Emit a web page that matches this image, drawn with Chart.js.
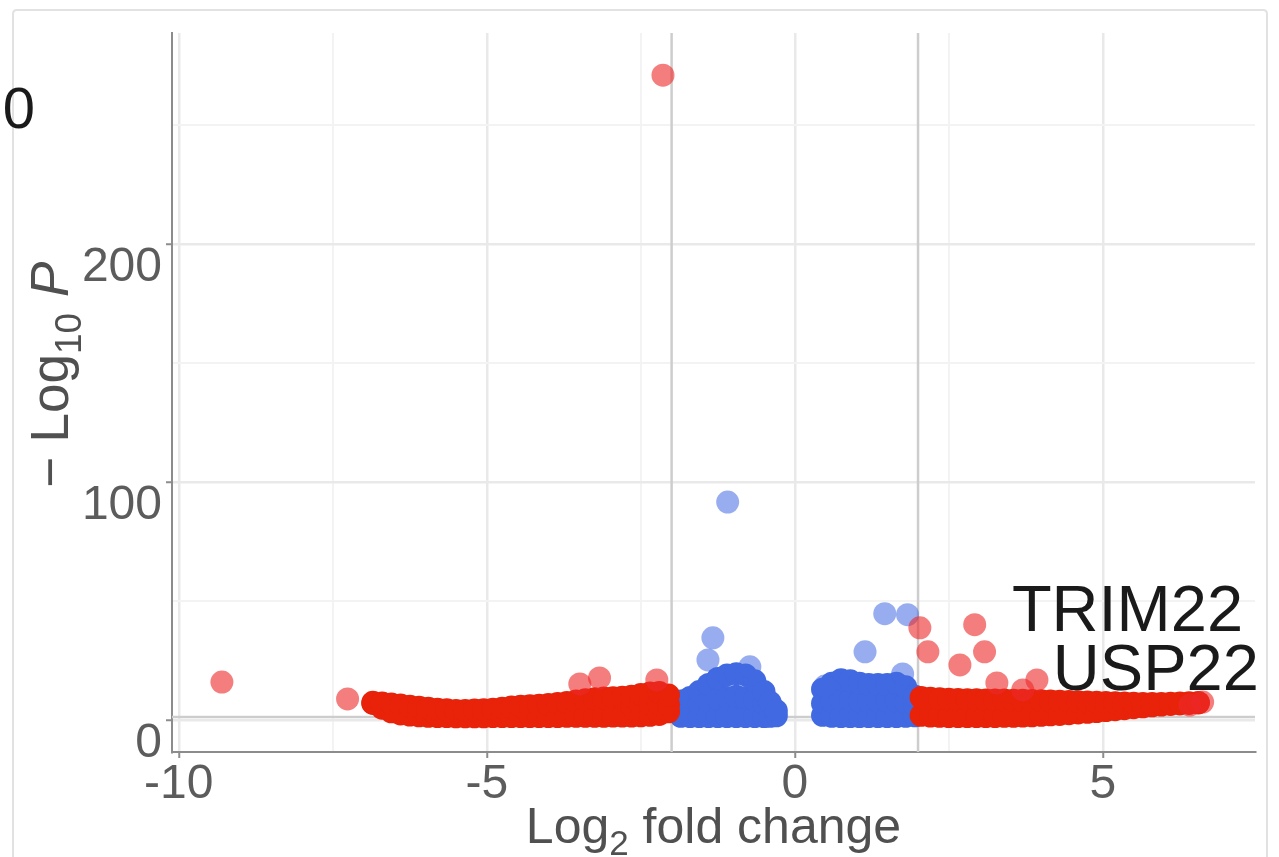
<!DOCTYPE html>
<html>
<head>
<meta charset="utf-8">
<script src="https://cdn.jsdelivr.net/npm/chart.js@4.4.0/dist/chart.umd.min.js"></script>
<style>
html,body{margin:0;padding:0;background:#fff;}
#wrap{position:relative;width:1279px;height:857px;}
</style>
</head>
<body>
<div id="wrap"><canvas id="c" width="1279" height="857"></canvas></div>
<script>
// ---------- data ----------
// isolated (semi-transparent) significant genes: |log2FC| > 2 and p < cutoff
const isoRedX = [-2.14, -9.30, -7.26, -3.17, -2.24, -3.49, 2.03, 2.16, 2.92, 3.08, 2.68, 3.93, 3.70, 3.28, 6.62, 6.41];
const isoRedY = [271, 16.0, 8.9, 17.7, 16.9, 15.2, 38.8, 28.7, 40.1, 28.7, 23.2, 16.9, 12.7, 15.6, 7.6, 6.3];
// isolated p-value-only genes
const isoBlueX = [-1.09, -1.33, -1.41, -0.73, 1.46, 1.83, 1.14, 1.75, 0.49];
const isoBlueY = [91.6, 34.6, 25.3, 22.4, 44.7, 44.3, 28.7, 19.4, 14.3];

// dense clouds (outline rows of thousands of overlapping genes)
const leftRedX   = [-6.85,-6.7,-6.55,-6.4,-6.25,-6.1,-5.95,-5.8,-5.65,-5.5,-5.35,-5.2,-5.05,-4.9,-4.75,-4.6,-4.45,-4.3,-4.15,-4.0,-3.85,-3.7,-3.55,-3.4,-3.25,-3.1,-2.95,-2.8,-2.65,-2.5,-2.35,-2.2,-2.05];
const leftRedTop = [7.5,7.2,6.8,6.3,5.8,5.4,5.0,4.6,4.3,4.0,4.0,4.2,4.4,4.6,5.0,5.5,5.8,6.0,6.2,6.6,7.0,7.4,8.0,8.6,9.0,9.3,9.4,9.6,10.0,10.8,11.4,11.6,10.5];
const leftRedMid = [null,null,null,null,null,null,null,null,null,null,null,null,null,null,null,null,null,null,null,null,null,null,null,null,null,null,null,null,6.0,6.3,6.7,6.8,6.5];
const leftRedLow = [7.0,5.0,3.5,2.6,2.1,1.8,1.6,1.5,1.5,1.4,1.4,1.4,1.4,1.5,1.5,1.5,1.5,1.5,1.5,1.5,1.5,1.6,1.6,1.6,1.6,1.6,1.7,1.7,1.7,1.8,2.0,2.4,3.5];

const rightRedX   = [2.05,2.2,2.35,2.5,2.65,2.8,2.95,3.1,3.25,3.4,3.55,3.7,3.85,4.0,4.15,4.3,4.45,4.6,4.75,4.9,5.05,5.2,5.35,5.5,5.65,5.8,5.95,6.1,6.25,6.4,6.55];
const rightRedTop = [9.5,9.2,9.0,8.8,8.7,8.6,8.6,8.5,8.5,8.4,8.3,8.3,8.2,8.1,8.0,7.9,7.8,7.7,7.6,7.5,7.4,7.3,7.2,7.1,7.0,7.0,7.0,7.1,7.2,7.3,7.4];
const rightRedLow = [2.0,1.7,1.6,1.5,1.5,1.5,1.5,1.5,1.5,1.6,1.6,1.7,1.8,2.0,2.2,2.4,2.7,3.0,3.3,3.6,4.0,4.4,4.8,5.2,5.6,6.0,6.3,6.6,6.8,7.0,7.2];

const leftBlueX   = [-1.85,-1.7,-1.55,-1.4,-1.25,-1.1,-0.95,-0.8,-0.65,-0.5,-0.4,-0.3];
const leftBlueTop = [8.0,9.5,12.0,15.0,17.5,19.0,19.5,19.0,16.5,12.0,7.5,4.0];
const leftBlueMid = [null,null,7.0,8.0,9.0,9.5,10.0,9.5,8.5,7.0,null,null];
const leftBlueLow = [1.6,1.5,1.5,1.5,1.5,1.5,1.5,1.5,1.5,1.5,1.6,1.8];

const rightBlueX   = [0.45,0.6,0.75,0.9,1.05,1.2,1.35,1.5,1.65,1.8,1.95];
const rightBlueTop = [13.0,15.5,17.0,16.5,15.5,15.0,15.0,15.0,15.5,14.0,10.0];
const rightBlueMid = [7.0,8.0,8.5,8.5,8.0,8.0,8.0,8.0,8.0,7.5,6.0];
const rightBlueLow = [2.0,1.6,1.5,1.5,1.5,1.5,1.5,1.5,1.5,1.6,1.8];

// gene labels
const geneLabels = ['TRIM22', 'USP22'];
const geneLabelX = [5.40, 5.86];
const geneLabelY = [45.0, 20.2];

// axes / cutoffs
const xGridValues = [-10, -7.5, -5, -2.5, 0, 2.5, 5];
const yGridValues = [0, 50, 100, 150, 200, 250];
const xMajorTicks = [-10, -5, 0, 5];
const yMajorTicks = [0, 100, 200];
const xRange = [-10.11, 7.47];
const yRange = [-13.4, 288.7];
const fcCutoffs = [-2, 2];
const pCutoff = 1.3;

// ---------- build ----------
function pairs(xs, ys) { return xs.map((x, i) => ({x: x, y: ys[i]})); }
function band(xs, tops, mids, lows) {
  const out = [];
  xs.forEach((x, i) => {
    out.push({x: x, y: lows[i]});
    if (mids && mids[i] != null) out.push({x: x, y: mids[i]});
    out.push({x: x, y: tops[i]});
  });
  return out;
}
const FONT = '"Liberation Sans", Arial, Helvetica, sans-serif';
const TICK_COL = '#5c5c5c';

const decor = {
  id: 'decor',
  beforeDraw(chart) {
    const ctx = chart.ctx;
    ctx.save();
    ctx.fillStyle = '#fff';
    ctx.fillRect(0, 0, chart.width, chart.height);
    // panel frame
    ctx.strokeStyle = '#e2e2e2';
    ctx.lineWidth = 2;
    ctx.beginPath();
    ctx.moveTo(13, 860); ctx.lineTo(13, 14); ctx.quadraticCurveTo(13, 10, 17, 10);
    ctx.lineTo(1263, 10); ctx.quadraticCurveTo(1267, 10, 1267, 14); ctx.lineTo(1267, 860);
    ctx.stroke();
    // clipped neighbour label
    ctx.fillStyle = '#1a1a1a';
    ctx.font = '58px ' + FONT;
    ctx.textAlign = 'center';
    ctx.textBaseline = 'middle';
    ctx.fillText('0', 19, 112);
    ctx.restore();
  },
  beforeDatasetsDraw(chart) {
    const ctx = chart.ctx, a = chart.chartArea, xs = chart.scales.x, ys = chart.scales.y;
    ctx.save();
    ctx.strokeStyle = '#cdcdcd';
    ctx.lineWidth = 2.5;
    fcCutoffs.forEach(v => {
      const px = xs.getPixelForValue(v);
      ctx.beginPath(); ctx.moveTo(px, a.top); ctx.lineTo(px, a.bottom); ctx.stroke();
    });
    const py = ys.getPixelForValue(pCutoff);
    ctx.beginPath(); ctx.moveTo(a.left, py); ctx.lineTo(a.right, py); ctx.stroke();
    ctx.restore();
  },
  afterDatasetsDraw(chart) {
    const ctx = chart.ctx, xs = chart.scales.x, ys = chart.scales.y;
    ctx.save();
    ctx.fillStyle = '#1a1a1a';
    ctx.font = '65px ' + FONT;
    ctx.textAlign = 'center';
    ctx.textBaseline = 'middle';
    geneLabels.forEach((t, i) => {
      ctx.fillText(t, xs.getPixelForValue(geneLabelX[i]), ys.getPixelForValue(geneLabelY[i]));
    });
    ctx.restore();
  },
  afterDraw(chart) {
    const ctx = chart.ctx, a = chart.chartArea;
    ctx.save();
    ctx.fillStyle = '#505050';
    ctx.textBaseline = 'alphabetic';
    ctx.textAlign = 'left';
    // x title: Log2 fold change
    const size = 50, sub = 35;
    const partsX = [
      {t: 'Log', f: size + 'px ' + FONT, dy: 0},
      {t: '2', f: sub + 'px ' + FONT, dy: 12},
      {t: ' fold change', f: size + 'px ' + FONT, dy: 0}
    ];
    let w = 0;
    partsX.forEach(p => { ctx.font = p.f; p.w = ctx.measureText(p.t).width; w += p.w; });
    let x = (a.left + a.right) / 2 - w / 2;
    const base = 843;
    partsX.forEach(p => { ctx.font = p.f; ctx.fillText(p.t, x, base + p.dy); x += p.w; });
    // y title: −Log10 P
    const ys = 53, ysub = 37;
    const partsY = [
      {t: '\u2212', f: ys + 'px ' + FONT, dy: 0, gap: 14},
      {t: 'Log', f: ys + 'px ' + FONT, dy: 0, gap: 0},
      {t: '10', f: ysub + 'px ' + FONT, dy: 13, gap: 16},
      {t: 'P', f: 'italic ' + ys + 'px ' + FONT, dy: 0, gap: 0}
    ];
    w = 0;
    partsY.forEach(p => { ctx.font = p.f; p.w = ctx.measureText(p.t).width; w += p.w + p.gap; });
    w -= partsY[partsY.length - 1].gap;
    ctx.translate(68, (a.top + a.bottom) / 2 - 18);
    ctx.rotate(-Math.PI / 2);
    x = -w / 2;
    partsY.forEach(p => { ctx.font = p.f; ctx.fillText(p.t, x, p.dy); x += p.w + p.gap; });
    ctx.restore();
  }
};

const isMajor = (list) => (ctx) => ctx.tick && list.includes(ctx.tick.value);

const chart = new Chart(document.getElementById('c'), {
  type: 'scatter',
  data: {
    datasets: [
      {label: 'p & log2FC (isolated)', data: pairs(isoRedX, isoRedY), backgroundColor: 'rgba(236,40,40,0.6)', pointRadius: 11.5, borderWidth: 0, order: 0},
      {label: 'p-value (isolated)', data: pairs(isoBlueX, isoBlueY), backgroundColor: 'rgba(65,105,225,0.55)', pointRadius: 11.5, borderWidth: 0, order: 1},
      {label: 'p & log2FC', data: band(leftRedX, leftRedTop, leftRedMid, leftRedLow).concat(band(rightRedX, rightRedTop, null, rightRedLow)), backgroundColor: '#E8230A', pointRadius: 11.5, borderWidth: 0, order: 2},
      {label: 'p-value', data: band(leftBlueX, leftBlueTop, leftBlueMid, leftBlueLow).concat(band(rightBlueX, rightBlueTop, rightBlueMid, rightBlueLow)), backgroundColor: '#4169E1', pointRadius: 11.5, borderWidth: 0, order: 3}
    ]
  },
  options: {
    responsive: false,
    animation: false,
    events: [],
    layout: {padding: {left: 0, top: 33, right: 24, bottom: 0}},
    plugins: {legend: {display: false}, tooltip: {enabled: false}},
    scales: {
      x: {
        type: 'linear', min: xRange[0], max: xRange[1],
        afterFit(s) { s.height = 105; },
        afterBuildTicks(s) { s.ticks = xGridValues.map(v => ({value: v})); },
        ticks: {
          autoSkip: false, maxRotation: 0, minRotation: 0,
          callback: v => xMajorTicks.includes(v) ? String(v) : '',
          font: {family: FONT, size: 48, lineHeight: 1}, color: TICK_COL, padding: 3
        },
        grid: {
          color: ctx => isMajor(xMajorTicks)(ctx) ? '#e9e9e9' : '#f3f3f3',
          lineWidth: ctx => isMajor(xMajorTicks)(ctx) ? 2.5 : 2,
          drawTicks: true, tickLength: 6,
          tickColor: ctx => isMajor(xMajorTicks)(ctx) ? '#8c8c8c' : 'rgba(0,0,0,0)', tickWidth: 2
        },
        border: {display: true, color: '#8c8c8c', width: 2}
      },
      y: {
        type: 'linear', min: yRange[0], max: yRange[1],
        afterFit(s) { s.width = 172; },
        afterBuildTicks(s) { s.ticks = yGridValues.map(v => ({value: v})); },
        ticks: {
          autoSkip: false,
          callback: v => yMajorTicks.includes(v) ? String(v) : '',
          font: {family: FONT, size: 48, lineHeight: 1}, color: TICK_COL, padding: 4, labelOffset: 24
        },
        grid: {
          color: ctx => isMajor(yMajorTicks)(ctx) ? '#e9e9e9' : '#f3f3f3',
          lineWidth: ctx => isMajor(yMajorTicks)(ctx) ? 2.5 : 2,
          drawTicks: true, tickLength: 6,
          tickColor: ctx => isMajor(yMajorTicks)(ctx) ? '#8c8c8c' : 'rgba(0,0,0,0)', tickWidth: 2
        },
        border: {display: true, color: '#8c8c8c', width: 2}
      }
    }
  },
  plugins: [decor]
});
</script>
</body>
</html>
